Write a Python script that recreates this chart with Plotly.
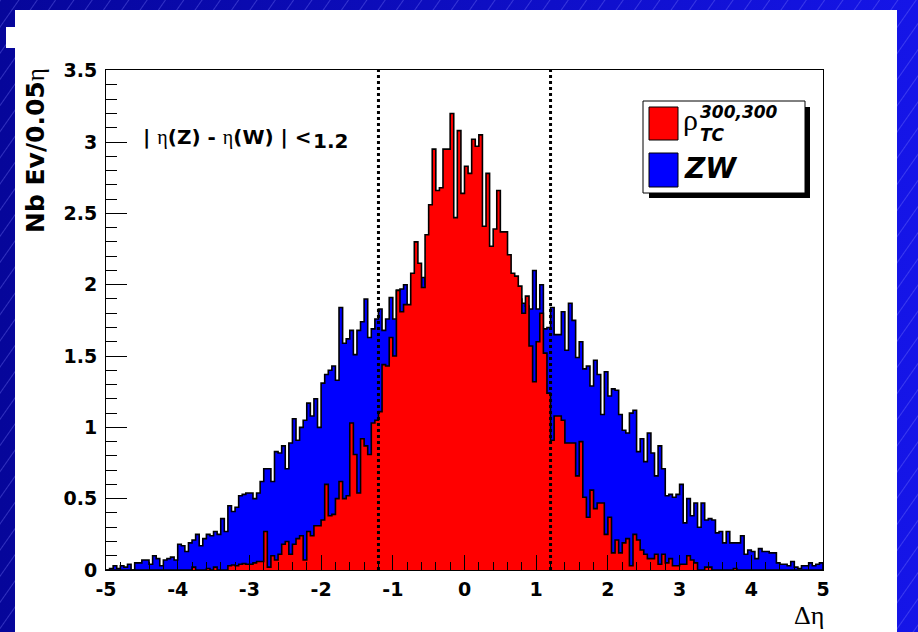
import base64
import plotly.graph_objects as go

# ---------------- data ----------------
X_MIN, X_MAX = -5.0, 5.0
BIN_WIDTH = 0.05
CUT = 1.2

zw = [
    0.00, 0.01, 0.03, 0.01, 0.03, 0.02, 0.04, 0.00, 0.05, 0.05,
    0.07, 0.07, 0.04, 0.10, 0.08, 0.03, 0.07, 0.08, 0.09, 0.07,
    0.18, 0.17, 0.13, 0.19, 0.21, 0.25, 0.17, 0.22, 0.25, 0.24,
    0.27, 0.25, 0.36, 0.27, 0.45, 0.41, 0.44, 0.52, 0.53, 0.54,
    0.54, 0.50, 0.54, 0.62, 0.71, 0.71, 0.62, 0.83, 0.82, 0.87,
    0.71, 0.89, 1.06, 0.91, 1.00, 1.05, 1.17, 1.08, 1.20, 1.00,
    1.31, 1.37, 1.40, 1.43, 1.33, 1.84, 1.59, 1.62, 1.68, 1.51,
    1.68, 1.74, 1.90, 1.63, 1.69, 1.76, 1.83, 1.68, 1.76, 1.91,
    1.76, 1.96, 1.97, 2.00, 1.85, 2.00, 2.05, 1.95, 2.05, 2.00,
    2.10, 2.00, 1.95, 2.05, 2.10, 2.00, 2.00, 2.10, 1.95, 2.05,
    2.00, 2.10, 2.00, 1.95, 2.05, 2.00, 2.10, 2.00, 1.95, 2.00,
    2.05, 1.95, 2.00, 1.95, 1.92, 1.90, 1.87, 1.85, 1.83, 2.10,
    1.83, 2.00, 1.69, 1.70, 1.84, 1.65, 1.65, 1.81, 1.54, 1.87,
    1.75, 1.49, 1.60, 1.41, 1.43, 1.29, 1.47, 1.37, 1.09, 1.39,
    1.22, 1.27, 1.26, 1.09, 0.98, 0.96, 1.10, 1.12, 0.83, 0.92,
    0.76, 0.96, 0.82, 0.66, 0.87, 0.71, 0.52, 0.53, 0.51, 0.53,
    0.60, 0.33, 0.50, 0.38, 0.47, 0.30, 0.47, 0.35, 0.36, 0.35,
    0.26, 0.27, 0.19, 0.27, 0.19, 0.19, 0.19, 0.24, 0.11, 0.14,
    0.13, 0.08, 0.15, 0.13, 0.13, 0.12, 0.12, 0.05, 0.04, 0.04,
    0.03, 0.06, 0.02, 0.01, 0.03, 0.03, 0.05, 0.03, 0.04, 0.05,
]

rho_tc = [
    0.00, 0.00, 0.00, 0.00, 0.00, 0.00, 0.00, 0.00, 0.00, 0.00,
    0.00, 0.00, 0.00, 0.00, 0.00, 0.00, 0.00, 0.00, 0.00, 0.00,
    0.00, 0.00, 0.00, 0.00, 0.02, 0.00, 0.00, 0.00, 0.01, 0.00,
    0.02, 0.00, 0.00, 0.00, 0.03, 0.035, 0.03, 0.04, 0.045, 0.04,
    0.04, 0.05, 0.06, 0.06, 0.27, 0.02, 0.10, 0.07, 0.11, 0.18,
    0.20, 0.11, 0.18, 0.22, 0.24, 0.07, 0.27, 0.24, 0.31, 0.31,
    0.35, 0.60, 0.38, 0.39, 0.50, 0.62, 0.50, 0.52, 1.03, 0.81,
    0.54, 0.92, 0.87, 0.81, 1.03, 1.05, 1.11, 1.44, 1.43, 1.63,
    1.50, 1.96, 1.81, 1.86, 1.86, 2.08, 2.30, 2.15, 1.98, 2.35,
    2.56, 2.95, 2.66, 2.68, 2.95, 2.95, 3.20, 2.47, 3.08, 2.64,
    2.83, 2.78, 3.02, 2.97, 3.05, 2.41, 2.78, 2.27, 2.39, 2.66,
    2.37, 2.37, 2.21, 2.08, 2.06, 1.99, 1.80, 1.92, 1.57, 1.32,
    1.60, 1.80, 1.52, 1.24, 0.91, 1.08, 1.08, 1.05, 0.89, 0.89,
    0.89, 0.66, 0.90, 0.51, 0.37, 0.56, 0.43, 0.47, 0.47, 0.25,
    0.37, 0.12, 0.21, 0.12, 0.19, 0.22, 0.03, 0.25, 0.21, 0.14,
    0.11, 0.08, 0.08, 0.11, 0.04, 0.11, 0.05, 0.08, 0.03, 0.03,
    0.04, 0.04, 0.10, 0.07, 0.05, 0.00, 0.00, 0.02, 0.02, 0.00,
    0.00, 0.00, 0.00, 0.00, 0.00, 0.01, 0.00, 0.00, 0.00, 0.00,
    0.00, 0.00, 0.00, 0.00, 0.00, 0.00, 0.00, 0.00, 0.00, 0.00,
    0.00, 0.00, 0.00, 0.00, 0.00, 0.00, 0.00, 0.00, 0.00, 0.00,
]

X_TICKS = [-5, -4, -3, -2, -1, 0, 1, 2, 3, 4, 5]
X_TICK_LABELS = [str(v) for v in X_TICKS]
Y_RANGE = [0, 3.505]
SERIES_NAMES = ["ρ_TC 300,300", "ZW"]

# ---------------- geometry helpers ----------------
W, H = 918, 632
L, R, T, B = 106, 95, 70, 62
PW, PH = W - L - R, H - T - B


def fx(px):
    return (px - L) / PW


def fy(py):
    return (H - B - py) / PH


edges = [X_MIN + i * BIN_WIDTH for i in range(len(zw) + 1)]


def step_xy(vals):
    xs = [edges[0]] + edges + [edges[-1]]
    ys = [0.0] + list(vals) + [vals[-1], 0.0]
    return xs, ys


fig = go.Figure()
for vals, col, name in [(zw, "#0000ff", SERIES_NAMES[1]), (rho_tc, "#ff0000", SERIES_NAMES[0])]:
    xs, ys = step_xy(vals)
    fig.add_trace(go.Scatter(
        x=xs, y=ys, mode="lines", line=dict(shape="hv", color="#000000", width=1.6),
        fill="tozeroy", fillcolor=col, name=name, showlegend=False, hoverinfo="skip",
    ))

# ---------------- background (slide) ----------------
svg = f'''<svg xmlns="http://www.w3.org/2000/svg" width="{W}" height="{H}" viewBox="0 0 {W} {H}">
<defs>
<linearGradient id="g" x1="0" y1="0" x2="1" y2="0">
<stop offset="0" stop-color="#06069a"/>
<stop offset="1" stop-color="#1515e8"/>
</linearGradient>
<pattern id="p" width="15" height="15" patternUnits="userSpaceOnUse" patternTransform="rotate(35)">
<line x1="0.5" y1="0" x2="0.5" y2="15" stroke="#8080ff" stroke-width="1" stroke-opacity="0.35"/>
</pattern>
</defs>
<rect width="{W}" height="{H}" fill="url(#g)"/>
<rect width="{W}" height="{H}" fill="url(#p)"/>
<rect x="15" y="10" width="882" height="{H}" fill="#ffffff"/>
<rect x="6" y="27" width="10" height="21" fill="#ffffff"/>
</svg>'''
src = "data:image/svg+xml;base64," + base64.b64encode(svg.encode()).decode()

shapes = []
# dotted cut lines
for xc in (-CUT, CUT):
    shapes.append(dict(type="line", xref="x", yref="y", x0=xc, x1=xc, y0=0, y1=Y_RANGE[1],
                       line=dict(color="#000000", width=3, dash="3px,3px"), layer="above"))

# legend box with shadow
shapes.append(dict(type="rect", xref="paper", yref="paper", x0=fx(649), x1=fx(810), y0=fy(198), y1=fy(107),
                   fillcolor="#000000", line=dict(width=0), layer="above"))
shapes.append(dict(type="rect", xref="paper", yref="paper", x0=fx(643), x1=fx(805), y0=fy(193), y1=fy(101),
                   fillcolor="#ffffff", line=dict(color="#000000", width=1), layer="above"))
shapes.append(dict(type="rect", xref="paper", yref="paper", x0=fx(649), x1=fx(678), y0=fy(140), y1=fy(107),
                   fillcolor="#ff0000", line=dict(color="#000000", width=1), layer="above"))
shapes.append(dict(type="rect", xref="paper", yref="paper", x0=fx(649), x1=fx(678), y0=fy(187), y1=fy(153),
                   fillcolor="#0000ff", line=dict(color="#000000", width=1), layer="above"))

SANS = "DejaVu Sans"
SERIF = "Liberation Serif"
ETA = '<span style="font-family:Liberation Serif;font-weight:normal">η</span>'


def ann(text, x, y, size, xanchor="center", yanchor="middle", family=SANS, weight="bold",
        style="normal", angle=0):
    return dict(text=text, xref="paper", yref="paper", x=fx(x), y=fy(y), xanchor=xanchor,
                yanchor=yanchor, showarrow=False, textangle=angle,
                font=dict(family=family, size=size, color="#000000", weight=weight, style=style))


annotations = [
    ann("Nb Ev/0.05" + ETA, 35, 151, 25, angle=-90),
    ann("Δη", 826, 615, 26, xanchor="right", family=SERIF, weight="normal"),
    ann("| " + ETA + "(Z) - " + ETA + "(W) | &lt;", 141, 137, 20, xanchor="left"),
    ann("1.2", 311, 141, 20, xanchor="left"),
    ann("ρ", 690, 120, 30, family=SERIF, weight="normal"),
    ann("300,300", 698, 112, 17, xanchor="left", style="italic"),
    ann("TC", 698, 135, 17, xanchor="left", style="italic"),
    ann("ZW", 682, 169, 28, xanchor="left", style="italic"),
]

fig.update_layout(
    width=W, height=H, margin=dict(l=L, r=R, t=T, b=B, pad=0),
    paper_bgcolor="#ffffff", plot_bgcolor="rgba(0,0,0,0)",
    showlegend=False,
    images=[dict(source=src, xref="paper", yref="paper", x=fx(0), y=fy(0), sizex=W / PW, sizey=H / PH,
                 xanchor="left", yanchor="top", sizing="stretch", layer="below")],
    shapes=shapes, annotations=annotations,
    xaxis=dict(range=[X_MIN, X_MAX], tickmode="array", tickvals=X_TICKS, ticktext=X_TICK_LABELS,
               ticks="inside", ticklen=15, tickwidth=1, tickcolor="#000000",
               minor=dict(ticks="inside", ticklen=8, dtick=0.2, tick0=-5, tickcolor="#000000"),
               showgrid=False, zeroline=False, showline=True, mirror=True, linecolor="#000000", linewidth=1,
               tickfont=dict(family=SANS, size=19, color="#000000", weight="bold"), ticklabelstandoff=2),
    yaxis=dict(range=Y_RANGE, dtick=0.5, tick0=0, ticks="inside", ticklen=21, tickwidth=1, tickcolor="#000000",
               minor=dict(ticks="inside", ticklen=11, dtick=0.1, tick0=0, tickcolor="#000000"),
               showgrid=False, zeroline=False, showline=True, mirror=True, linecolor="#000000", linewidth=1,
               tickfont=dict(family=SANS, size=19, color="#000000", weight="bold"), ticklabelstandoff=4),
)

fig.write_html("out.html")
